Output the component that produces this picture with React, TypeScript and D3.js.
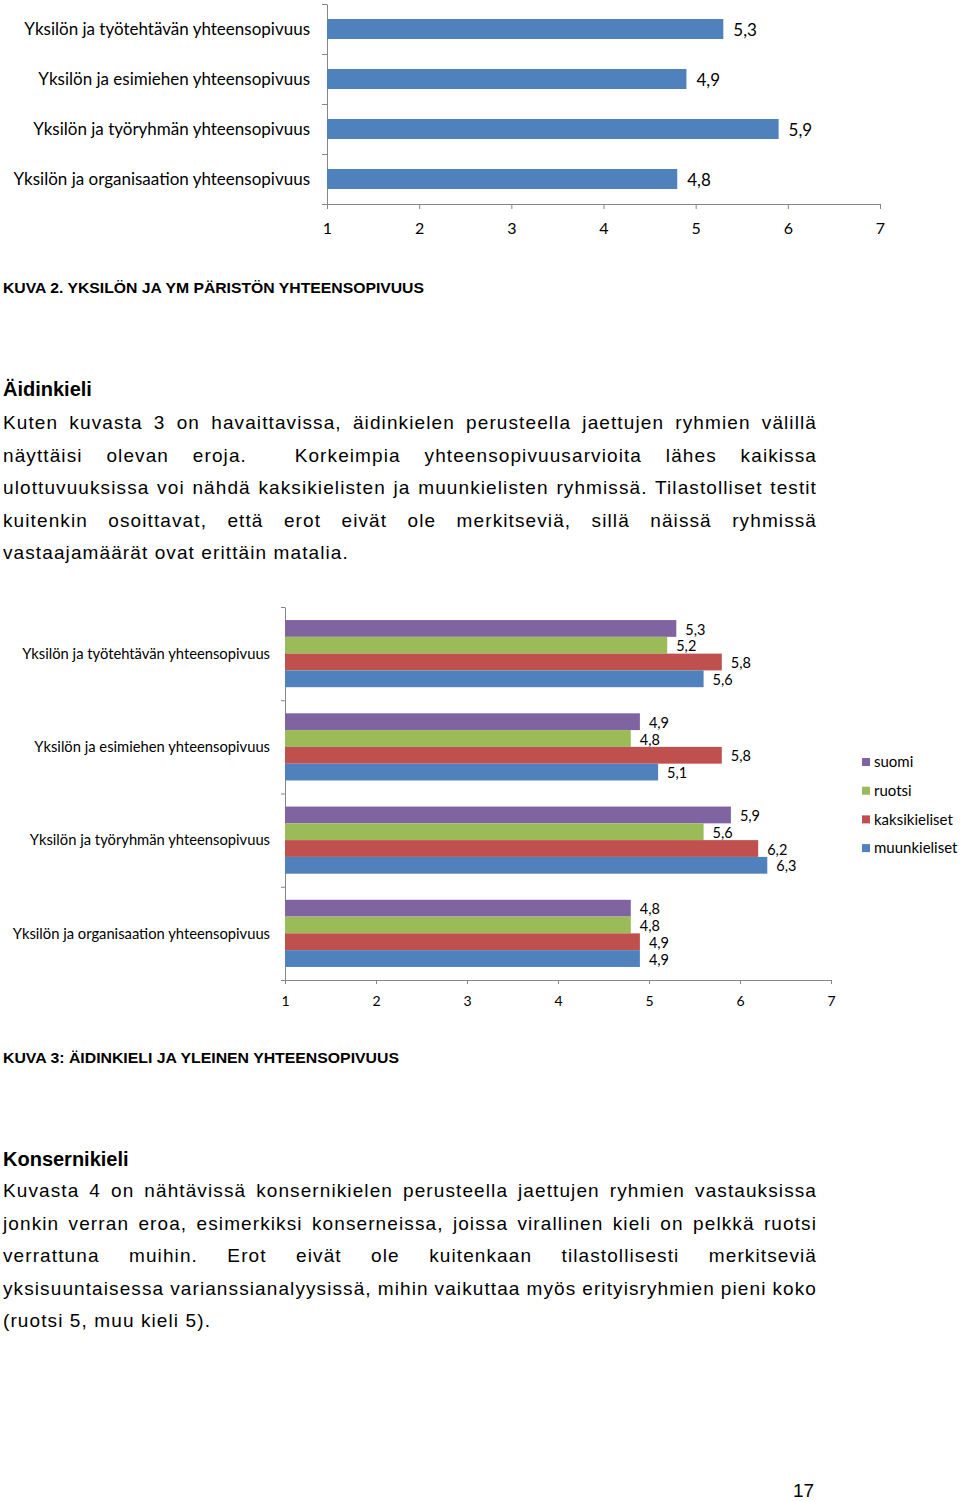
import React, { useEffect, useRef } from "react";
import * as d3 from "d3";

// chart 1: overall fit per dimension
const categories = [
  "Yksilön ja työtehtävän yhteensopivuus",
  "Yksilön ja esimiehen yhteensopivuus",
  "Yksilön ja työryhmän yhteensopivuus",
  "Yksilön ja organisaation yhteensopivuus",
];
const overallValues = [5.3, 4.9, 5.9, 4.8];

// chart 2: by mother tongue
const seriesNames = ["suomi", "ruotsi", "kaksikieliset", "muunkieliset"];
const suomiValues = [5.3, 4.9, 5.9, 4.8];
const ruotsiValues = [5.2, 4.8, 5.6, 4.8];
const kaksikielisetValues = [5.8, 5.8, 6.2, 4.9];
const muunkielisetValues = [5.6, 5.1, 6.3, 4.9];
const seriesColors = ["#8064A2", "#9BBB59", "#C0504D", "#4F81BD"];

const axisTicks = [1, 2, 3, 4, 5, 6, 7];

const caption2 = "KUVA 2. YKSILÖN JA YM PÄRISTÖN YHTEENSOPIVUUS";
const caption3 = "KUVA 3: ÄIDINKIELI JA YLEINEN YHTEENSOPIVUUS";
const heading1 = "Äidinkieli";
const heading2 = "Konsernikieli";
const paragraph1 = [
  "Kuten kuvasta 3 on havaittavissa, äidinkielen perusteella jaettujen ryhmien välillä",
  "näyttäisi olevan eroja.  Korkeimpia yhteensopivuusarvioita lähes kaikissa",
  "ulottuvuuksissa voi nähdä kaksikielisten ja muunkielisten ryhmissä. Tilastolliset testit",
  "kuitenkin osoittavat, että erot eivät ole merkitseviä, sillä näissä ryhmissä",
  "vastaajamäärät ovat erittäin matalia.",
];
const paragraph2 = [
  "Kuvasta 4 on nähtävissä konsernikielen perusteella jaettujen ryhmien vastauksissa",
  "jonkin verran eroa, esimerkiksi konserneissa, joissa virallinen kieli on pelkkä ruotsi",
  "verrattuna muihin. Erot eivät ole kuitenkaan tilastollisesti merkitseviä",
  "yksisuuntaisessa varianssianalyysissä, mihin vaikuttaa myös erityisryhmien pieni koko",
  "(ruotsi 5, muu kieli 5).",
];
const pageNumber = "17";

const chartFont = "Lato, 'Open Sans', sans-serif";
const docFont = "'Liberation Sans', Arial, sans-serif";
const axisColor = "#868686";
const fmt = (v: number) => d3.format(".1f")(v).replace(".", ",");

const App = () => {
  const ref = useRef<SVGSVGElement>(null);

  useEffect(() => {
    const svg = d3.select(ref.current);
    svg.selectAll("*").remove();

    const styleAxis = (g, size) => {
      g.select(".domain").attr("stroke", axisColor);
      g.selectAll(".tick line").attr("stroke", axisColor);
      g.selectAll(".tick text")
        .attr("fill", "#000")
        .style("font-family", chartFont)
        .style("font-size", size + "px");
    };

    // ---------- chart 1 ----------
    const x1 = d3.scaleLinear().domain([1, 7]).range([327, 880]);
    const y1 = d3.scaleBand().domain(categories).range([4, 204]).paddingInner(0.6).paddingOuter(0.3);
    const edge1 = d3.scaleLinear().domain([0, categories.length]).range([4, 204]);

    const c1 = svg.append("g");
    c1.append("g")
      .attr("transform", "translate(0,204)")
      .call(d3.axisBottom(x1).tickValues(axisTicks).tickFormat(d3.format("d")).tickSize(5).tickSizeOuter(0).tickPadding(14))
      .call(g => styleAxis(g, 16));
    c1.append("g")
      .attr("transform", "translate(327,0)")
      .call(d3.axisLeft(edge1).tickValues(d3.range(categories.length + 1)).tickFormat(() => "").tickSize(5).tickSizeOuter(0))
      .call(g => styleAxis(g, 16));

    c1.selectAll("rect.bar")
      .data(categories)
      .enter()
      .append("rect")
      .attr("x", x1(1))
      .attr("y", d => y1(d))
      .attr("width", (d, i) => x1(overallValues[i]) - x1(1))
      .attr("height", y1.bandwidth())
      .attr("fill", "#4F81BD");

    c1.selectAll("text.val")
      .data(categories)
      .enter()
      .append("text")
      .attr("x", (d, i) => x1(overallValues[i]) + 10)
      .attr("y", d => y1(d) + y1.bandwidth() / 2 + 1)
      .attr("dy", "0.35em")
      .style("font-family", chartFont)
      .style("font-size", "17px")
      .text((d, i) => fmt(overallValues[i]));

    c1.selectAll("text.cat")
      .data(categories)
      .enter()
      .append("text")
      .attr("x", 310)
      .attr("y", d => y1(d) + y1.bandwidth() / 2)
      .attr("dy", "0.35em")
      .attr("text-anchor", "end")
      .style("font-family", chartFont)
      .style("font-size", "17px")
      .text(d => d);

    // ---------- chart 2 ----------
    const seriesValues = [suomiValues, ruotsiValues, kaksikielisetValues, muunkielisetValues];
    const x2 = d3.scaleLinear().domain([1, 7]).range([285, 831]);
    const y2 = d3.scaleBand().domain(categories).range([607, 980]).paddingInner(0.28).paddingOuter(0.14);
    const ys = d3.scaleBand().domain(seriesNames).range([0, y2.bandwidth()]);
    const edge2 = d3.scaleLinear().domain([0, categories.length]).range([607, 980]);

    const c2 = svg.append("g");
    c2.append("g")
      .attr("transform", "translate(0,980)")
      .call(d3.axisBottom(x2).tickValues(axisTicks).tickFormat(d3.format("d")).tickSize(4).tickSizeOuter(0).tickPadding(12))
      .call(g => styleAxis(g, 14));
    c2.append("g")
      .attr("transform", "translate(285,0)")
      .call(d3.axisLeft(edge2).tickValues(d3.range(categories.length + 1)).tickFormat(() => "").tickSize(4).tickSizeOuter(0))
      .call(g => styleAxis(g, 14));

    categories.forEach((cat, ci) => {
      const grp = c2.append("g").attr("transform", `translate(0,${y2(cat)})`);
      seriesNames.forEach((s, si) => {
        const v = seriesValues[si][ci];
        grp.append("rect")
          .attr("x", x2(1))
          .attr("y", ys(s))
          .attr("width", x2(v) - x2(1))
          .attr("height", ys.bandwidth())
          .attr("fill", seriesColors[si]);
        grp.append("text")
          .attr("x", x2(v) + 9)
          .attr("y", ys(s) + ys.bandwidth() / 2 + 1)
          .attr("dy", "0.35em")
          .style("font-family", chartFont)
          .style("font-size", "14.5px")
          .text(fmt(v));
      });
      c2.append("text")
        .attr("x", 270)
        .attr("y", y2(cat) + y2.bandwidth() / 2)
        .attr("dy", "0.35em")
        .attr("text-anchor", "end")
        .style("font-family", chartFont)
        .style("font-size", "14.75px")
        .text(cat);
    });

    // legend
    const legend = c2.append("g").attr("transform", "translate(862,762)");
    seriesNames.forEach((s, i) => {
      legend.append("rect")
        .attr("x", 0)
        .attr("y", i * 28.7 - 4)
        .attr("width", 8)
        .attr("height", 8)
        .attr("fill", seriesColors[i]);
      legend.append("text")
        .attr("x", 12)
        .attr("y", i * 28.7)
        .attr("dy", "0.35em")
        .style("font-family", chartFont)
        .style("font-size", "15px")
        .text(s);
    });

    // ---------- document text ----------
    const caption = (txt, y, w) =>
      svg.append("text")
        .attr("x", 3)
        .attr("y", y)
        .attr("textLength", w)
        .attr("lengthAdjust", "spacingAndGlyphs")
        .style("font-family", docFont)
        .style("font-weight", "bold")
        .style("font-size", "15px")
        .text(txt);
    caption(caption2, 293, 421);
    caption(caption3, 1063, 396);

    const heading = (txt, y) =>
      svg.append("text")
        .attr("x", 3)
        .attr("y", y)
        .style("font-family", docFont)
        .style("font-weight", "bold")
        .style("font-size", "20px")
        .text(txt);
    heading(heading1, 396);
    heading(heading2, 1166);

    const paragraph = (lines, y0) => {
      lines.forEach((line, i) => {
        const t = svg.append("text")
          .attr("x", 3)
          .attr("y", y0 + i * 32.5)
          .attr("xml:space", "preserve")
          .style("font-family", docFont)
          .style("font-size", "19px")
          .style("letter-spacing", "1.1px")
          .text(line);
        if (i < lines.length - 1) {
          const w = (t.node() as SVGTextElement).getComputedTextLength();
          const spaces = (line.match(/ /g) || []).length;
          if (spaces > 0) t.style("word-spacing", (814 - w) / spaces + "px");
        }
      });
    };
    paragraph(paragraph1, 429);
    paragraph(paragraph2, 1197);

    svg.append("text")
      .attr("x", 793)
      .attr("y", 1497)
      .style("font-family", docFont)
      .style("font-size", "19px")
      .text(pageNumber);
  }, []);

  return (
    <svg
      ref={ref}
      width={960}
      height={1501}
      style={{ position: "absolute", left: 0, top: 0, background: "#fff" }}
    />
  );
};

export default App;
